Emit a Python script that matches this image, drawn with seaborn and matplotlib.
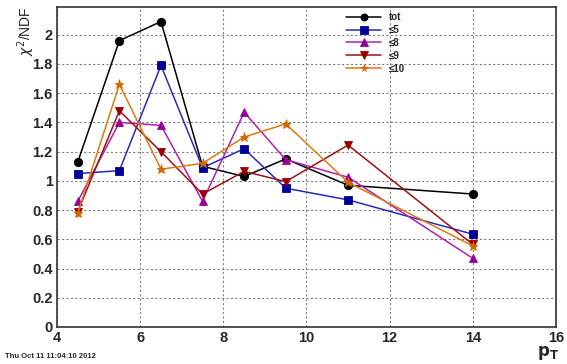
import matplotlib
matplotlib.use("Agg")
import matplotlib.pyplot as plt
import seaborn as sns
import pandas as pd
from matplotlib.ticker import MultipleLocator

pt = [4.5, 5.5, 6.5, 7.5, 8.5, 9.5, 11, 14]
tot = [1.13, 1.96, 2.09, 1.10, 1.03, 1.15, 0.97, 0.91]
le5 = [1.05, 1.07, 1.79, 1.09, 1.22, 0.95, 0.87, 0.635]
le8 = [0.86, 1.40, 1.38, 0.86, 1.47, 1.145, 1.025, 0.47]
le9 = [0.79, 1.48, 1.20, 0.91, 1.065, 0.995, 1.245, 0.565]
le10 = [0.78, 1.66, 1.08, 1.12, 1.30, 1.39, 0.99, 0.555]

names = ["tot", "≤5", "≤8", "≤9", "≤10"]
series = [tot, le5, le8, le9, le10]
line_colors = ["#000000", "#2a2ab8", "#b020b0", "#a01010", "#e07810"]
marker_colors = ["#000000", "#000099", "#990099", "#990000", "#d06a00"]
markers = ["o", "s", "^", "v", "*"]
msizes = [6, 6, 6, 6, 6.5]

rows = []
for n, s in zip(names, series):
    for x, y in zip(pt, s):
        rows.append({"pt": x, "chi2": y, "set": n})
df = pd.DataFrame(rows)

sns.set_style("white")
plt.rcParams['font.family'] = ['Liberation Sans', 'DejaVu Sans']

fig = plt.figure(figsize=(5.67, 3.64), dpi=100)
ax = fig.add_axes([57/567, 37/364, (556-57)/567, (327-7)/364])

for n, lc, mc, mk, ms in zip(names, line_colors, marker_colors, markers, msizes):
    sub = df[df["set"] == n]
    sns.lineplot(data=sub, x="pt", y="chi2", ax=ax, color=lc, lw=1.1,
                 marker=mk, markersize=ms, markerfacecolor=mc, markeredgecolor=mc,
                 markeredgewidth=0.6, label=n, sort=False)

ax.set_xlim(4, 16)
ax.set_ylim(0, 2.19)
ax.xaxis.set_major_locator(MultipleLocator(2))
ax.xaxis.set_minor_locator(MultipleLocator(0.5))
ax.yaxis.set_major_locator(MultipleLocator(0.2))
ax.yaxis.set_minor_locator(MultipleLocator(0.05))
ax.tick_params(which="both", direction="in", top=False, right=False, color="#333333")
ax.tick_params(which="major", length=8, width=0.8, labelsize=10.5, pad=3)
ax.tick_params(which="minor", length=4.5, width=0.8)
ax.set_yticks([0, 0.2, 0.4, 0.6, 0.8, 1, 1.2, 1.4, 1.6, 1.8, 2])
ax.set_yticklabels(["0", "0.2", "0.4", "0.6", "0.8", "1", "1.2", "1.4", "1.6", "1.8", "2"])
for lab in ax.get_xticklabels() + ax.get_yticklabels():
    lab.set_fontweight("bold")
ax.grid(True, which="major", ls=(0, (2, 2)), color="#808080", lw=0.8)
for sp in ax.spines.values():
    sp.set_color("#333333")
    sp.set_linewidth(1.2)

ax.set_xlabel("")
ax.set_ylabel("")
fig.text(548/567, 1 - 353/364, r"$\mathbf{p}_{\mathbf{T}}$", ha="center", va="center", fontsize=12)
fig.text(26/567, 1 - 6/364, r"$\chi^{2}$/NDF", rotation=90, ha="center", va="top", fontsize=10)
fig.text(5/567, 1 - 357/364, "Thu Oct 11 11:04:10 2012", ha="left", va="center", fontsize=5.5, fontweight="bold")

leg = ax.legend(loc="upper left", bbox_to_anchor=((346 - 57)/499, 1 - 5/320), frameon=False,
                prop={"size": 7, "weight": "bold"}, handlelength=3.6, labelspacing=0.3,
                handletextpad=0.8, borderaxespad=0, borderpad=0, markerscale=0.85)

fig.savefig("out.png", dpi=100)
